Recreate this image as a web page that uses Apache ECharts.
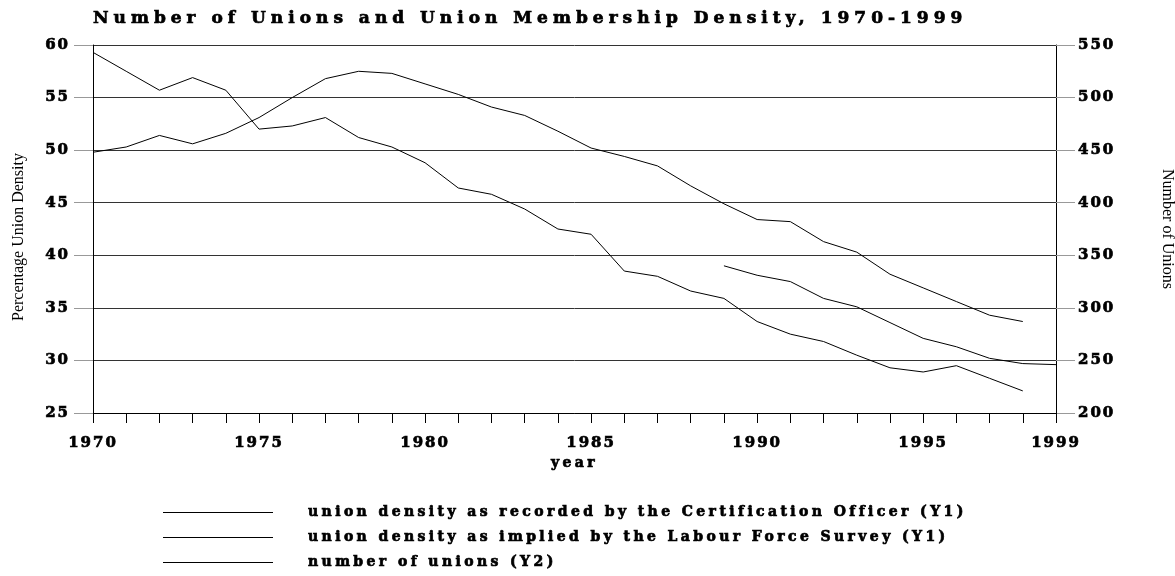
<!DOCTYPE html>
<html>
<head>
<meta charset="utf-8">
<script src="https://cdn.jsdelivr.net/npm/echarts@6/dist/echarts.min.js"></script>
<style>
  html, body { margin: 0; padding: 0; background: #fff; }
  #chart { width: 1175px; height: 576px; }
</style>
</head>
<body>
<div id="chart"></div>
<script>
// data
const coYears = [1970, 1971, 1972, 1973, 1974, 1975, 1976, 1977, 1978, 1979,
  1980, 1981, 1982, 1983, 1984, 1985, 1986, 1987, 1988, 1989,
  1990, 1991, 1992, 1993, 1994, 1995, 1996, 1997, 1998];
const coDensity = [49.8, 50.3, 51.4, 50.6, 51.6, 53.1, 55.0, 56.8, 57.5, 57.3,
  56.3, 55.3, 54.1, 53.3, 51.8, 50.2, 49.4, 48.5, 46.6, 44.9,
  43.4, 43.2, 41.3, 40.3, 38.2, 36.9, 35.6, 34.3, 33.7];
const lfsYears = [1989, 1990, 1991, 1992, 1993, 1994, 1995, 1996, 1997, 1998, 1999];
const lfsDensity = [39.0, 38.1, 37.5, 35.9, 35.1, 33.6, 32.1, 31.3, 30.2, 29.7, 29.6];
const unionYears = coYears;
const unionCount = [543, 525, 507, 519, 507, 470, 473, 481, 462, 453,
  438, 414, 408, 394, 375, 370, 335, 330, 316, 309,
  287, 275, 268, 255, 243, 239, 245, 233, 221];
const yearLabels = [1970, 1975, 1980, 1985, 1990, 1995, 1999];

const seriesNames = [
  'union density as recorded by the Certification Officer (Y1)',
  'union density as implied by the Labour Force Survey (Y1)',
  'number of unions (Y2)'
];

const pairs = (xs, ys) => xs.map((x, i) => [x, ys[i]]);
const boldFont = 'DejaVu Serif';
// heavy, widely spaced type as in the reference
const heavy = { fontFamily: boldFont, fontWeight: 'bold', color: '#000', textBorderColor: '#000', textBorderWidth: 0.7 };

// canvas letter spacing per font size
const spacingBySize = { 17: '5px', 14: '3.4px', 15: '2px' };
function withSpacing(draw) {
  return function (text, x, y, maxWidth) {
    const font = this.font;
    const m = /(\d+)px/.exec(font);
    this.letterSpacing = (m && spacingBySize[m[1]]) || '0px';
    this.font = font;
    return maxWidth === undefined
      ? draw.call(this, text, x, y)
      : draw.call(this, text, x, y, maxWidth);
  };
}
const proto = CanvasRenderingContext2D.prototype;
proto.fillText = withSpacing(proto.fillText);
proto.strokeText = withSpacing(proto.strokeText);

const chart = echarts.init(document.getElementById('chart'));
const lineStyle = { color: '#000', width: 1 };

chart.setOption({
  animation: false,
  title: {
    text: 'Number of Unions and Union Membership Density, 1970-1999',
    left: 93,
    top: 10,
    padding: 0,
    textStyle: Object.assign({ fontSize: 17 }, heavy)
  },
  grid: { left: 93, right: 119, top: 45, bottom: 163, outerBoundsMode: 'none' },
  legend: {
    orient: 'vertical',
    left: 163,
    top: 504,
    padding: 0,
    icon: 'rect',
    itemWidth: 110,
    itemHeight: 1,
    itemGap: 8,
    data: seriesNames,
    itemStyle: { color: '#000' },
    textStyle: Object.assign({ fontSize: 14, lineHeight: 17, padding: [0, 0, 0, 30] }, heavy)
  },
  xAxis: {
    type: 'value',
    min: 1970,
    max: 1999,
    interval: 1,
    name: 'year',
    nameLocation: 'middle',
    nameGap: 43,
    nameTextStyle: Object.assign({ fontSize: 14 }, heavy),
    axisLine: { lineStyle: { color: '#000' } },
    axisTick: { inside: false, length: 10, lineStyle: { color: '#000' } },
    splitLine: { show: false },
    axisLabel: Object.assign({
      margin: 23,
      showMaxLabel: true,
      fontSize: 15,
      formatter: v => yearLabels.includes(v) ? String(v) : ''
    }, heavy)
  },
  yAxis: [
    {
      type: 'value',
      min: 25,
      max: 60,
      interval: 5,
      name: 'Percentage Union Density',
      nameLocation: 'middle',
      nameGap: 66,
      nameTextStyle: { fontFamily: 'Liberation Serif', fontSize: 16, color: '#000', padding: [0, 16, 0, 0] },
      axisLine: { show: true, lineStyle: { color: '#000' } },
      axisTick: { show: true, length: 19, lineStyle: { color: '#999' } },
      splitLine: { lineStyle: { color: '#333', width: 1 } },
      axisLabel: Object.assign({ margin: 23, fontSize: 15 }, heavy)
    },
    {
      type: 'value',
      min: 200,
      max: 550,
      interval: 50,
      name: 'Number of Unions',
      nameLocation: 'middle',
      nameGap: 103,
      nameRotate: -90,
      nameTextStyle: { fontFamily: 'Liberation Serif', fontSize: 16, color: '#000' },
      axisLine: { show: true, lineStyle: { color: '#000' } },
      axisTick: { show: true, length: 19, lineStyle: { color: '#999' } },
      splitLine: { show: false },
      axisLabel: Object.assign({ margin: 22, fontSize: 15 }, heavy)
    }
  ],
  series: [
    {
      name: seriesNames[0], type: 'line', yAxisIndex: 0, symbol: 'none',
      lineStyle, itemStyle: { color: '#000' }, data: pairs(coYears, coDensity)
    },
    {
      name: seriesNames[1], type: 'line', yAxisIndex: 0, symbol: 'none',
      lineStyle, itemStyle: { color: '#000' }, data: pairs(lfsYears, lfsDensity)
    },
    {
      name: seriesNames[2], type: 'line', yAxisIndex: 1, symbol: 'none',
      lineStyle, itemStyle: { color: '#000' }, data: pairs(unionYears, unionCount)
    }
  ]
});
</script>
</body>
</html>
